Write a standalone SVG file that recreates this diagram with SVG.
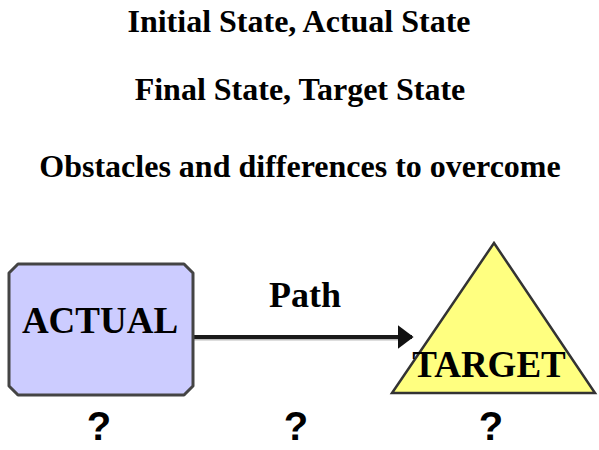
<svg xmlns="http://www.w3.org/2000/svg" width="599" height="450" viewBox="0 0 599 450">
<defs>
<style>
.t{font-family:"Liberation Serif","Times New Roman",serif;font-weight:bold;fill:#000;text-anchor:middle}
.h{font-size:32px}
.q{font-family:"Liberation Sans",Arial,sans-serif;font-weight:bold;font-size:40px;fill:#000;text-anchor:middle}
</style>
<marker id="ah" viewBox="0 0 10 15" refX="9" refY="7.5" markerWidth="4" markerHeight="6" orient="auto" markerUnits="strokeWidth">
<path d="M0,0 L10,7.5 L0,15 z" fill="#111"/>
</marker>
</defs>
<rect width="599" height="450" fill="#fff"/>
<text class="t h" x="299" y="32">Initial State, Actual State</text>
<text class="t h" x="300" y="100">Final State, Target State</text>
<text class="t h" x="300" y="177">Obstacles and differences to overcome</text>
<g id="connectors">
<line x1="194" y1="339" x2="400" y2="339" stroke="#bbb" stroke-width="3"/>
<line x1="194" y1="337" x2="412" y2="337" stroke="#1a1a1a" stroke-width="4" marker-end="url(#ah)"/>
<text class="t" x="305" y="307" font-size="36">Path</text>
</g>
<g id="actual">
<path d="M18,264 H184 L193,273 V386 L184,395 H18 L9,386 V273 Z" fill="#ccccff" stroke="#444" stroke-width="3" stroke-linejoin="round"/>
<text class="t" x="100" y="333" font-size="37">ACTUAL</text>
</g>
<g id="target">
<polygon points="494,243 595,393 392,393" fill="#ffff80" stroke="#333" stroke-width="2.5" stroke-linejoin="miter"/>
<text class="t" x="489" y="377" font-size="37">TARGET</text>
</g>
<g id="questions">
<text class="q" x="99" y="440">?</text>
<text class="q" x="296" y="440">?</text>
<text class="q" x="491" y="440">?</text>
</g>
</svg>
